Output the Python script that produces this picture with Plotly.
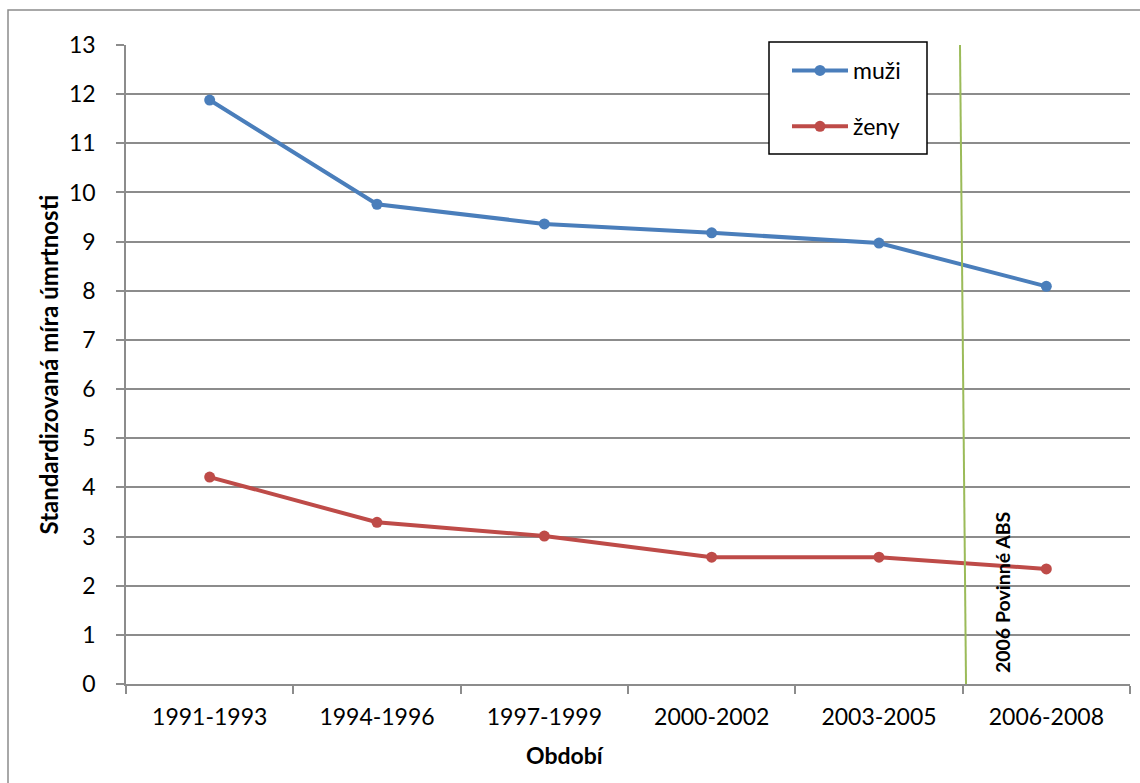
import plotly.graph_objects as go

# Období a standardizovaná míra úmrtnosti
obdobi = ["1991-1993", "1994-1996", "1997-1999", "2000-2002", "2003-2005", "2006-2008"]
muzi = [11.88, 9.76, 9.36, 9.18, 8.97, 8.09]
zeny = [4.21, 3.29, 3.01, 2.58, 2.58, 2.34]
y_ticks = list(range(0, 14))

W, H = 1140, 783
ML, MR, MT, MB = 126, 10, 45, 99
PW, PH = W - ML - MR, H - MT - MB

FONT = "Lato"
GRID = "#8c8c8c"
BLUE = "#4a7ebb"
RED = "#be4b48"
GREEN = "#9bbb59"


def px_x(p):
    return (p - ML) / PW


def px_y(p):
    return (H - MB - p) / PH


fig = go.Figure()
fig.add_trace(go.Scatter(
    x=obdobi, y=muzi, name="muži", mode="lines+markers",
    line=dict(color=BLUE, width=4), marker=dict(size=11, color=BLUE),
    legendgroup="m",
))
fig.add_trace(go.Scatter(
    x=obdobi, y=zeny, name="ženy", mode="lines+markers",
    line=dict(color=RED, width=4), marker=dict(size=11, color=RED),
    legendgroup="z",
))

fig.update_layout(
    width=W, height=H,
    margin=dict(l=ML, r=MR, t=MT, b=MB, autoexpand=False),
    paper_bgcolor="white", plot_bgcolor="white",
    font=dict(family=FONT, size=23, color="black"),
    showlegend=True,
    legend=dict(
        x=px_x(787), y=px_y(49), xanchor="left", yanchor="top",
        bgcolor="rgba(0,0,0,0)", borderwidth=0,
        itemwidth=56, tracegroupgap=23,
        font=dict(family=FONT, size=23),
    ),
    xaxis=dict(
        type="category", range=[-0.5, 5.5],
        showline=True, linecolor=GRID, linewidth=1.5,
        ticks="outside", tickson="boundaries", ticklen=8,
        tickcolor=GRID, tickwidth=1.5,
        showgrid=False, zeroline=False,
        ticklabelstandoff=12,
    ),
    yaxis=dict(
        range=[0, 13], tickvals=y_ticks,
        showline=True, linecolor=GRID, linewidth=1.5,
        ticks="outside", ticklen=8, tickcolor=GRID, tickwidth=1.5,
        showgrid=True, gridcolor=GRID, gridwidth=1.5,
        zeroline=False, ticklabelstandoff=16,
    ),
)

# Rámeček grafu a legendy
fig.add_shape(type="rect", xref="paper", yref="paper",
              x0=px_x(8), y0=px_y(800), x1=px_x(1160), y1=px_y(10),
              line=dict(color=GRID, width=1.5), layer="below")
fig.add_shape(type="rect", xref="paper", yref="paper",
              x0=px_x(769), y0=px_y(154), x1=px_x(927), y1=px_y(42),
              line=dict(color="black", width=1.5), fillcolor="white", layer="above")

# Svislá značka: 2006 povinné ABS
fig.add_shape(type="line", xref="x", yref="paper",
              x0=4.484, y0=1, x1=4.52, y1=0,
              line=dict(color=GREEN, width=2))
fig.add_annotation(x=4.735, y=1.87, xref="x", yref="y",
                   xanchor="center", yanchor="middle",
                   text="<b>2006 Povinné ABS</b>", textangle=-90,
                   showarrow=False, font=dict(family=FONT, size=19.5))

# Popisky os
fig.add_annotation(x=px_x(565), y=px_y(755), xref="paper", yref="paper",
                   xanchor="center", yanchor="middle",
                   text="<b>Období</b>", showarrow=False,
                   font=dict(family=FONT, size=23))
fig.add_annotation(x=px_x(48), y=0.5, xref="paper", yref="paper",
                   xanchor="center", yanchor="middle",
                   text="<b>Standardizovaná míra úmrtnosti</b>", textangle=-90,
                   showarrow=False, font=dict(family=FONT, size=24))

fig.write_html("out.html")
